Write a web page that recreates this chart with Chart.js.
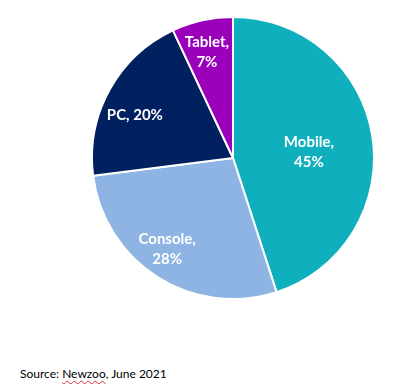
<!DOCTYPE html>
<html>
<head>
<meta charset="utf-8">
<script src="https://cdn.jsdelivr.net/npm/chart.js@4"></script>
<style>
  html, body { margin: 0; padding: 0; background: #ffffff; }
  body { width: 395px; height: 384px; position: relative; overflow: hidden; }
  #wrap { position: absolute; left: 91px; top: 16px; width: 284px; height: 284px; }
  #src { position: absolute; left: 20px; top: 367px; font-family: Lato, "Open Sans", sans-serif; font-size: 12px; line-height: 14px; color: #000; white-space: nowrap; }
  #src .sp { text-decoration: underline wavy #e03030; text-decoration-thickness: 1px; text-underline-offset: 2px; }
</style>
</head>
<body>
<div id="wrap"><canvas id="c"></canvas></div>
<div id="src">Source: <span class="sp">Newzoo</span>, June 2021</div>
<script>
const categories = ["Mobile", "Console", "PC", "Tablet"];
const shares = [45, 28, 20, 7];
const colors = ["#10AFBE", "#8DB4E2", "#002060", "#9A00BA"];
// label lines per slice
const labelLines = [["Mobile,", "45%"], ["Console,", "28%"], ["PC, 20%"], ["Tablet,", "7%"]];
// label placement: fraction of radius, angular nudge (deg)
const labelRadius = [0.54, 0.80, 0.76, 0.77];
const labelNudge = [4.5, 3.3, -5.1, -1.3];

const labelPlugin = {
  id: 'sliceLabels',
  afterDatasetsDraw(chart) {
    const ctx = chart.ctx;
    const meta = chart.getDatasetMeta(0);
    ctx.save();
    ctx.fillStyle = '#ffffff';
    ctx.font = 'bold 15px Lato, "Open Sans", sans-serif';
    ctx.textAlign = 'center';
    ctx.textBaseline = 'middle';
    meta.data.forEach((arc, i) => {
      const p = arc.getProps(['x', 'y', 'startAngle', 'endAngle', 'outerRadius'], true);
      const mid = (p.startAngle + p.endAngle) / 2 + labelNudge[i] * Math.PI / 180;
      const r = p.outerRadius * labelRadius[i];
      const cx = p.x + Math.cos(mid) * r;
      const cy = p.y + Math.sin(mid) * r;
      const lines = labelLines[i];
      const lh = 20;
      lines.forEach((t, k) => {
        ctx.fillText(t, cx, cy + (k - (lines.length - 1) / 2) * lh);
      });
    });
    ctx.restore();
  }
};

new Chart(document.getElementById('c'), {
  type: 'pie',
  data: {
    labels: categories,
    datasets: [{
      data: shares,
      backgroundColor: colors,
      borderColor: '#ffffff',
      borderWidth: 2
    }]
  },
  options: {
    responsive: true,
    maintainAspectRatio: false,
    animation: false,
    layout: { padding: 0 },
    plugins: { legend: { display: false }, tooltip: { enabled: false } }
  },
  plugins: [labelPlugin]
});
</script>
</body>
</html>
